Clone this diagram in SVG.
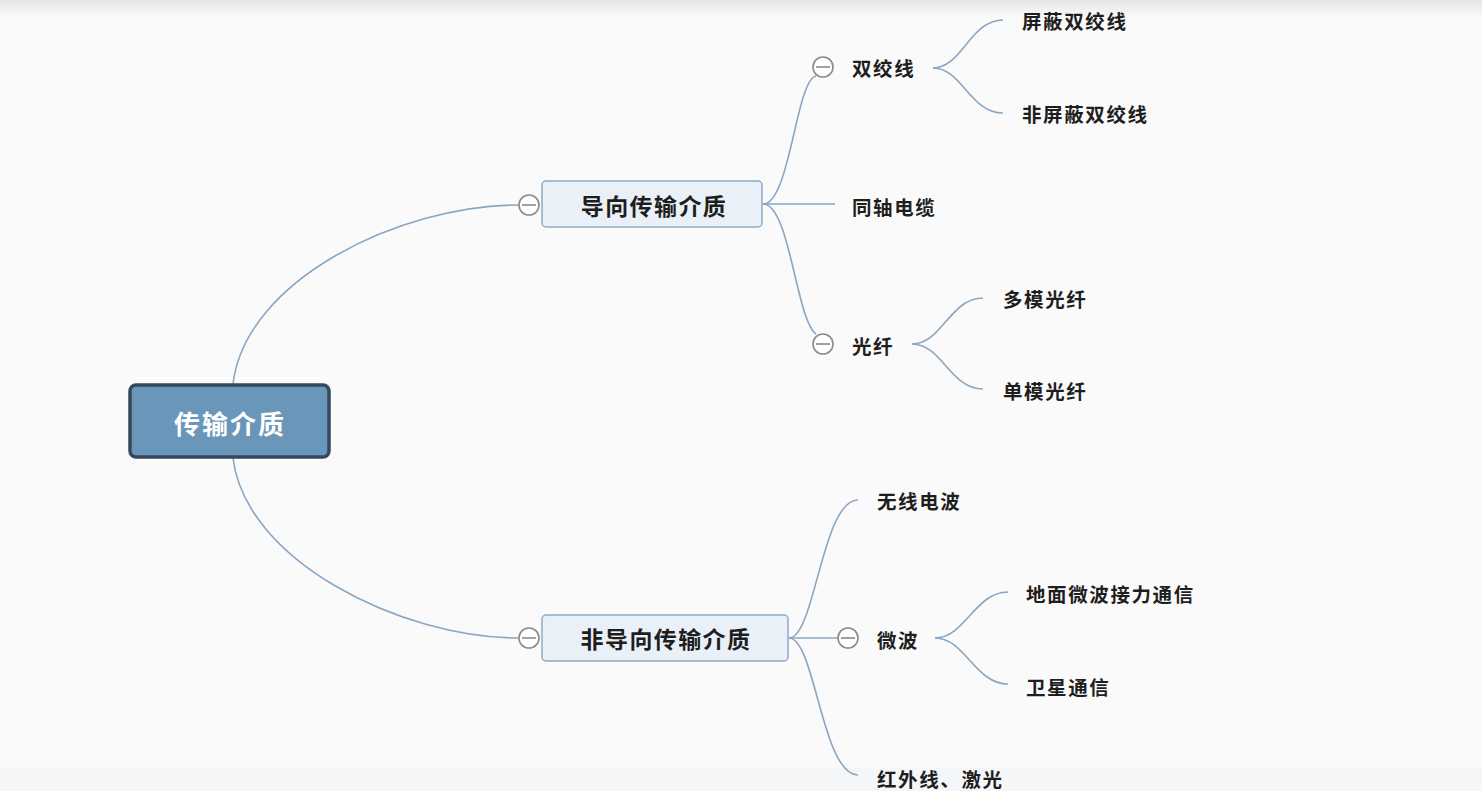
<svg xmlns="http://www.w3.org/2000/svg" width="1482" height="791" viewBox="0 0 1482 791">
<defs>
<linearGradient id="topband" x1="0" y1="0" x2="0" y2="1">
<stop offset="0" stop-color="#e6e6e6"/>
<stop offset="1" stop-color="#fafafa"/>
</linearGradient>
<style>
.bg{fill:#fafafa}
.conn path{fill:none;stroke:#8aa6c2;stroke-width:1.6}
.t{font-family:"Noto Sans CJK SC","Noto Sans",sans-serif;font-weight:bold;fill:#1e1e1e}
.leaf{font-size:19.5px;letter-spacing:1.6px;dominant-baseline:central}
.mid{font-size:23px;letter-spacing:1.4px;text-anchor:middle;dominant-baseline:central}
.rootT{font-size:26px;letter-spacing:2px;text-anchor:middle;dominant-baseline:central;fill:#ffffff}
.box{fill:#e9f0f7;stroke:#8eabc8;stroke-width:1.5}
.rootBox{fill:#6a97b9;stroke:#34495e;stroke-width:3.5}
.tog circle{fill:#ffffff;stroke:#8a8a8a;stroke-width:1.6}
.tog line{stroke:#8a8a8a;stroke-width:1.6}
</style>
</defs>
<rect class="bg" x="0" y="0" width="1482" height="791"/>
<rect x="0" y="0" width="1482" height="18" fill="url(#topband)"/>
<rect x="0" y="768" width="1482" height="23" fill="#f4f6f8"/>

<g class="conn" id="connectors">
<path d="M233,384 C245,280 400,205 519,205"/>
<path d="M233,458 C245,560 400,638 519,638"/>
<path d="M763,204 C790,204 796,80 816,76"/>
<path d="M763,204 L835,204"/>
<path d="M763,204 C790,204 796,320 816,334"/>
<path d="M933,68 C962,68 970,20 1003,20"/>
<path d="M933,68 C962,68 970,113 1003,113"/>
<path d="M912,344 C942,344 950,298 983,298"/>
<path d="M912,344 C942,344 950,389 983,389"/>
<path d="M789,638 C815,638 822,500 858,500"/>
<path d="M789,638 L838,638"/>
<path d="M789,638 C815,638 822,775 858,775"/>
<path d="M935,638 C965,638 975,592 1008,592"/>
<path d="M935,638 C965,638 975,684 1008,684"/>
</g>

<g id="root">
<rect class="rootBox" x="130" y="385" width="199" height="72" rx="6"/>
<text class="t rootT" x="230" y="422">传输介质</text>
</g>

<g id="guided">
<rect class="box" x="542" y="181" width="220" height="46" rx="4"/>
<text class="t mid" x="654" y="205">导向传输介质</text>
<g class="tog"><circle cx="529" cy="205" r="10"/><line x1="522" y1="205" x2="536" y2="205"/></g>
</g>

<g id="unguided">
<rect class="box" x="542" y="615" width="246" height="46" rx="4"/>
<text class="t mid" x="666" y="638">非导向传输介质</text>
<g class="tog"><circle cx="529" cy="638" r="10"/><line x1="522" y1="638" x2="536" y2="638"/></g>
</g>

<g id="twisted">
<g class="tog"><circle cx="823" cy="67" r="10"/><line x1="816" y1="67" x2="830" y2="67"/></g>
<text class="t leaf" x="852" y="67">双绞线</text>
</g>
<g id="stp"><text class="t leaf" x="1022" y="20">屏蔽双绞线</text></g>
<g id="utp"><text class="t leaf" x="1022" y="113">非屏蔽双绞线</text></g>
<g id="coax"><text class="t leaf" x="852" y="206">同轴电缆</text></g>
<g id="fiber">
<g class="tog"><circle cx="823" cy="344" r="10"/><line x1="816" y1="344" x2="830" y2="344"/></g>
<text class="t leaf" x="852" y="345">光纤</text>
</g>
<g id="mmf"><text class="t leaf" x="1003" y="298">多模光纤</text></g>
<g id="smf"><text class="t leaf" x="1003" y="390">单模光纤</text></g>

<g id="radio"><text class="t leaf" x="877" y="500">无线电波</text></g>
<g id="microwave">
<g class="tog"><circle cx="848" cy="638" r="10"/><line x1="841" y1="638" x2="855" y2="638"/></g>
<text class="t leaf" x="877" y="639">微波</text>
</g>
<g id="terrestrial"><text class="t leaf" x="1026" y="593">地面微波接力通信</text></g>
<g id="satellite"><text class="t leaf" x="1026" y="686">卫星通信</text></g>
<g id="infrared"><text class="t leaf" x="877" y="778">红外线、激光</text></g>
</svg>
